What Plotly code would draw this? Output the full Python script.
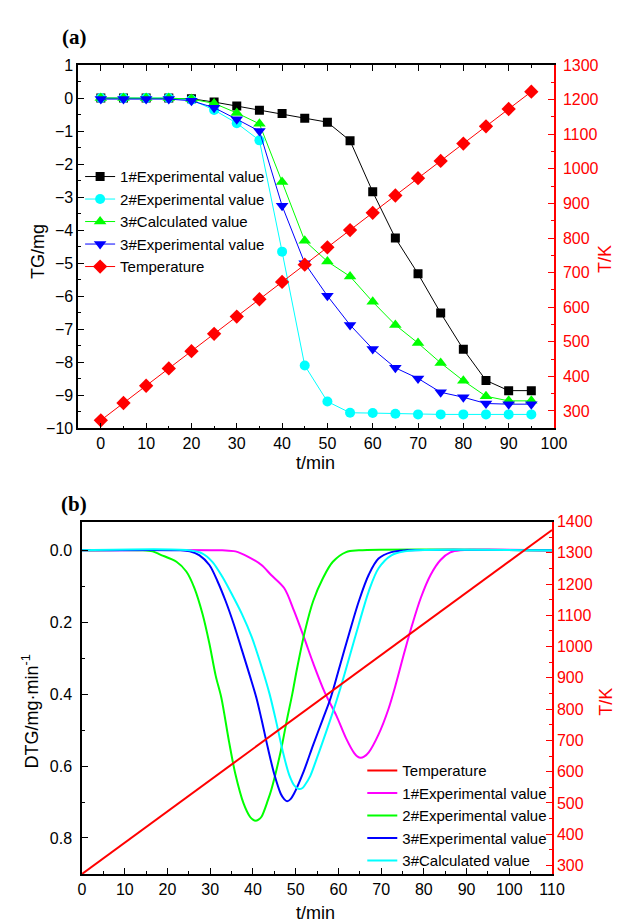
import plotly.graph_objects as go

# ---------------- Panel (a): TG data ----------------
t_a = [0, 5, 10, 15, 20, 25, 30, 35, 40, 45, 50, 55, 60, 65, 70, 75, 80, 85, 90, 95]
tg_1_exp = [0, 0, 0, 0, -0.02, -0.12, -0.24, -0.37, -0.47, -0.61, -0.73, -1.29, -2.84, -4.24,
            -5.32, -6.51, -7.61, -8.55, -8.86, -8.86]
tg_2_exp = [0, 0, 0, 0, -0.05, -0.36, -0.76, -1.28, -4.65, -8.10, -9.19, -9.53, -9.54, -9.56,
            -9.58, -9.58, -9.58, -9.58, -9.58, -9.58]
tg_3_calc = [0, 0, 0, 0, -0.03, -0.16, -0.45, -0.78, -2.54, -4.32, -4.95, -5.40, -6.17, -6.87,
             -7.42, -8.02, -8.56, -9.03, -9.17, -9.17]
tg_3_exp = [-0.03, -0.03, -0.03, -0.03, -0.08, -0.29, -0.64, -1.00, -3.26, -5.00, -5.99, -6.87,
            -7.60, -8.17, -8.49, -8.91, -9.06, -9.25, -9.27, -9.27]
temp_a = [273, 323, 373, 423, 473, 523, 573, 623, 673, 723, 773, 823, 873, 923, 973, 1023,
          1073, 1123, 1173, 1223]

# ---------------- Panel (b): DTG data ----------------
t_b_1 = [0, 32.8, 35.9, 38.9, 42.0, 44.2, 47.3, 49.6, 51.9, 54.1, 56.8, 59.5, 61.8, 63.7, 64.5,
         65.2, 66.0, 67.1, 69.4, 71.7, 73.5, 75.3, 77.2, 79.3, 81.6, 83.9, 86.2, 88.5, 110]
dtg_1_exp = [0, 0, 0.003, 0.018, 0.041, 0.068, 0.105, 0.168, 0.241, 0.314, 0.395, 0.459, 0.523,
             0.564, 0.574, 0.577, 0.574, 0.562, 0.512, 0.442, 0.37, 0.29, 0.21, 0.132, 0.068,
             0.027, 0.006, 0, 0]

t_b_2 = [0, 14.0, 16.5, 18.3, 22.1, 24.4, 26.3, 28.2, 29.8, 31.3, 32.6, 34.4, 35.9, 37.8, 39.3,
         40.0, 40.6, 41.3, 42.0, 43.5, 44.3, 46.5, 48.0, 49.2, 50.3, 52.2, 54.1, 56.4, 58.7,
         61.8, 64.8, 110]
dtg_2_exp = [0, 0, 0.003, 0.012, 0.032, 0.059, 0.105, 0.177, 0.259, 0.35, 0.41, 0.532, 0.623,
             0.704, 0.741, 0.749, 0.752, 0.749, 0.741, 0.695, 0.666, 0.559, 0.468, 0.40, 0.33,
             0.223, 0.141, 0.077, 0.032, 0.005, 0, 0]

t_b_3e = [0, 23.0, 25.2, 27.5, 29.8, 31.7, 33.6, 35.5, 37.4, 39.3, 40.8, 42.0, 43.5, 45.0, 46.5,
          47.3, 48.0, 48.8, 49.6, 51.9, 54.1, 56.4, 58.2, 60.3, 62.5, 64.8, 67.1, 69.4, 72.4,
          76.0, 110]
dtg_3_exp = [0, 0, 0.003, 0.014, 0.041, 0.086, 0.141, 0.205, 0.277, 0.35, 0.41, 0.47, 0.55,
             0.623, 0.677, 0.692, 0.698, 0.692, 0.677, 0.614, 0.541, 0.468, 0.41, 0.323, 0.232,
             0.141, 0.068, 0.023, 0.005, 0, 0]

t_b_3c = [0, 25.0, 28.2, 30.5, 32.8, 35.1, 37.4, 39.7, 42.0, 43.9, 45.5, 47.0, 48.5, 49.8, 50.8,
          51.6, 52.2, 53.4, 54.9, 56.4, 58.7, 60.3, 62.5, 64.8, 67.1, 69.4, 72.4, 75.5, 78.0, 110]
dtg_3_calc = [0, 0, 0.009, 0.032, 0.073, 0.123, 0.177, 0.241, 0.323, 0.40, 0.48, 0.56, 0.625,
              0.656, 0.664, 0.661, 0.652, 0.628, 0.58, 0.53, 0.45, 0.39, 0.30, 0.205, 0.114,
              0.05, 0.014, 0.003, 0, 0]

t_b_T = [0, 110]
temp_b = [273, 1373]

# ---------------- figure ----------------
W, H = 630, 924
BLACK, RED = "#000000", "#FF0000"
CYAN, GREEN, BLUE, MAGENTA = "#00FFFF", "#00FF00", "#0000FF", "#FF00FF"
FONT = "Liberation Sans, Arial, sans-serif"

fig = go.Figure()

# (a) traces
fig.add_trace(go.Scatter(x=t_a, y=tg_1_exp, name="1#Experimental value", mode="lines+markers",
                         line=dict(color=BLACK, width=1), marker=dict(symbol="square", size=9, color=BLACK),
                         xaxis="x", yaxis="y", legend="legend"))
fig.add_trace(go.Scatter(x=t_a, y=tg_2_exp, name="2#Experimental value", mode="lines+markers",
                         line=dict(color=CYAN, width=1), marker=dict(symbol="circle", size=10, color=CYAN),
                         xaxis="x", yaxis="y", legend="legend"))
fig.add_trace(go.Scatter(x=t_a, y=tg_3_calc, name="3#Calculated value", mode="lines+markers",
                         line=dict(color=GREEN, width=1), marker=dict(symbol="triangle-up", size=11, color=GREEN),
                         xaxis="x", yaxis="y", legend="legend"))
fig.add_trace(go.Scatter(x=t_a, y=tg_3_exp, name="3#Experimental value", mode="lines+markers",
                         line=dict(color=BLUE, width=1), marker=dict(symbol="triangle-down", size=11, color=BLUE),
                         xaxis="x", yaxis="y", legend="legend"))
fig.add_trace(go.Scatter(x=t_a, y=temp_a, name="Temperature", mode="lines+markers",
                         line=dict(color=RED, width=1), marker=dict(symbol="diamond", size=11, color=RED),
                         xaxis="x", yaxis="y2", legend="legend"))

# (b) traces
SM = 0.9
fig.add_trace(go.Scatter(x=t_b_T, y=temp_b, name="Temperature", mode="lines",
                         line=dict(color=RED, width=2), xaxis="x2", yaxis="y4", legend="legend2",
                         legendrank=1))
fig.add_trace(go.Scatter(x=t_b_1, y=dtg_1_exp, name="1#Experimental value", mode="lines",
                         line=dict(color=MAGENTA, width=2, shape="spline", smoothing=SM),
                         xaxis="x2", yaxis="y3", legend="legend2", legendrank=2))
fig.add_trace(go.Scatter(x=t_b_2, y=dtg_2_exp, name="2#Experimental value", mode="lines",
                         line=dict(color=GREEN, width=2, shape="spline", smoothing=SM),
                         xaxis="x2", yaxis="y3", legend="legend2", legendrank=3))
fig.add_trace(go.Scatter(x=t_b_3e, y=dtg_3_exp, name="3#Experimental value", mode="lines",
                         line=dict(color=BLUE, width=2, shape="spline", smoothing=SM),
                         xaxis="x2", yaxis="y3", legend="legend2", legendrank=4))
fig.add_trace(go.Scatter(x=t_b_3c, y=dtg_3_calc, name="3#Calculated value", mode="lines",
                         line=dict(color=CYAN, width=2, shape="spline", smoothing=SM),
                         xaxis="x2", yaxis="y3", legend="legend2", legendrank=5))

def px_x(p):
    return p / W

def px_y(p):
    return 1 - p / H

tickfont_k = dict(family=FONT, size=16, color=BLACK)
tickfont_r = dict(family=FONT, size=16, color=RED)

common = dict(showgrid=False, zeroline=False, showline=True, ticks="inside", linewidth=1.5)

fig.update_layout(
    width=W, height=H,
    margin=dict(l=0, r=0, t=0, b=0),
    paper_bgcolor="white", plot_bgcolor="white",
    font=dict(family=FONT, size=15, color=BLACK),
    showlegend=True,
    xaxis=dict(domain=[px_x(68), px_x(557)], anchor="y", range=[-5, 100],
               tick0=0, dtick=10, ticklen=6, tickwidth=1.2, tickcolor=BLACK,
               linecolor=BLACK, mirror="ticks", tickfont=tickfont_k,
               minor=dict(dtick=5, tick0=0, ticklen=3, tickcolor=BLACK, ticks="inside"),
               **common),
    yaxis=dict(domain=[px_y(420), px_y(50)], anchor="x", range=[-10, 1],
               tick0=0, dtick=1, ticklen=6, tickwidth=1.2, tickcolor=BLACK,
               linecolor=BLACK, tickfont=tickfont_k,
               minor=dict(dtick=0.5, tick0=0, ticklen=3, tickcolor=BLACK, ticks="inside"),
               **common),
    yaxis2=dict(overlaying="y", side="right", anchor="x", range=[250, 1300],
                tick0=0, dtick=100, ticklen=6, tickwidth=1.2, tickcolor=RED,
                linecolor=RED, tickfont=tickfont_r, ticklabelstandoff=4,
                minor=dict(dtick=50, tick0=0, ticklen=3, tickcolor=RED, ticks="inside"),
                **common),
    xaxis2=dict(domain=[px_x(72), px_x(555)], anchor="y3", range=[0, 110],
                tick0=0, dtick=10, ticklen=6, tickwidth=1.2, tickcolor=BLACK,
                linecolor=BLACK, mirror=True, tickfont=tickfont_k,
                minor=dict(dtick=5, tick0=0, ticklen=3, tickcolor=BLACK, ticks="inside"),
                **common),
    yaxis3=dict(domain=[px_y(874), px_y(515)], anchor="x2", range=[0.9, -0.08],
                tickvals=[0, 0.2, 0.4, 0.6, 0.8], ticktext=["0.0", "0.2", "0.4", "0.6", "0.8"],
                ticklen=6, tickwidth=1.2, tickcolor=BLACK, ticklabelstandoff=5,
                linecolor=BLACK, tickfont=tickfont_k,
                minor=dict(tickvals=[0.1, 0.3, 0.5, 0.7], ticklen=3, tickcolor=BLACK, ticks="inside"),
                **common),
    yaxis4=dict(overlaying="y3", side="right", anchor="x2", range=[273, 1400],
                tick0=0, dtick=100, ticklen=6, tickwidth=1.2, tickcolor=RED,
                linecolor=RED, tickfont=tickfont_r,
                minor=dict(dtick=50, tick0=0, ticklen=3, tickcolor=RED, ticks="inside"),
                **common),
    legend=dict(x=px_x(70), y=px_y(147), xanchor="left", yanchor="top",
                bgcolor="rgba(0,0,0,0)", borderwidth=0,
                font=dict(family=FONT, size=15, color=BLACK), tracegroupgap=0),
    legend2=dict(x=px_x(360), y=px_y(752), xanchor="left", yanchor="top",
                 bgcolor="rgba(0,0,0,0)", borderwidth=0,
                 font=dict(family=FONT, size=15, color=BLACK), tracegroupgap=0),
)

ann = []
title_font = dict(family=FONT, size=18, color=BLACK)
title_font_r = dict(family=FONT, size=18, color=RED)
panel_font = dict(family="Liberation Serif, Times New Roman, serif", size=21, color=BLACK)
def add_ann(text, x, y, font, angle=0):
    ann.append(dict(text=text, x=px_x(x), y=px_y(y), xref="paper", yref="paper",
                    showarrow=False, font=font, textangle=angle,
                    xanchor="center", yanchor="middle"))

add_ann("<b>(a)</b>", 64, 21, panel_font)
add_ann("<b>(b)</b>", 64, 497, panel_font)
add_ann("TG/mg", 26, 240, title_font, -90)
add_ann("T/K", 610, 248, title_font_r, -90)
add_ann("t/min", 312, 455, title_font)
add_ann("DTG/mg·min<sup>-1</sup>", 20, 708, title_font, -90)
add_ann("T/K", 611, 699, title_font_r, -90)
add_ann("t/min", 312, 914, title_font)
fig.update_layout(annotations=ann)

fig.write_html("out.html")
